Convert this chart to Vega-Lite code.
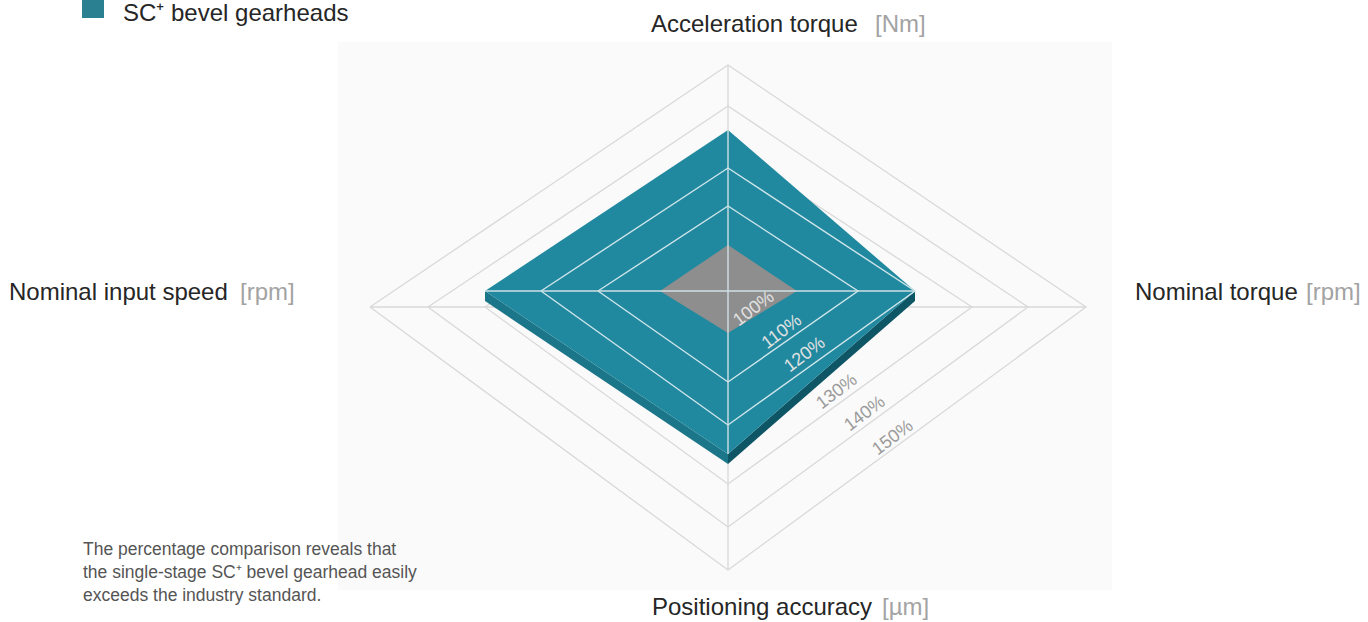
{
  "$schema": "https://vega.github.io/schema/vega-lite/v6.json",
  "width": 1368,
  "height": 622,
  "autosize": {"type": "none"},
  "padding": 0,
  "background": "#ffffff",
  "config": {"view": {"stroke": null}, "text": {"font": "Liberation Sans"}},
  "resolve": {"scale": {"color": "independent"}},
  "datasets": {
    "panel": [{"x": -390, "x2": 384, "y": 265, "y2": -283}],
    "ringsLow": [
      {"ring": "130%", "i": 0, "x": -243, "y": 0}, {"ring": "130%", "i": 1, "x": 0, "y": 160}, {"ring": "130%", "i": 2, "x": 244, "y": 0}, {"ring": "130%", "i": 3, "x": 0, "y": -177}, {"ring": "130%", "i": 4, "x": -243, "y": 0},
      {"ring": "140%", "i": 0, "x": -300, "y": 0}, {"ring": "140%", "i": 1, "x": 0, "y": 201}, {"ring": "140%", "i": 2, "x": 300, "y": 0}, {"ring": "140%", "i": 3, "x": 0, "y": -220}, {"ring": "140%", "i": 4, "x": -300, "y": 0},
      {"ring": "150%", "i": 0, "x": -358, "y": 0}, {"ring": "150%", "i": 1, "x": 0, "y": 242}, {"ring": "150%", "i": 2, "x": 358, "y": 0}, {"ring": "150%", "i": 3, "x": 0, "y": -263}, {"ring": "150%", "i": 4, "x": -358, "y": 0}
    ],
    "axesLow": [{"x": -358, "y": 0, "x2": 358, "y2": 0}, {"x": 0, "y": 242, "x2": 0, "y2": -263}],
    "sides": [
      {"face": "left", "x": -243, "y": 16, "y2": 6}, {"face": "left", "x": 0, "y": -147, "y2": -157},
      {"face": "right", "x": 0, "y": -147, "y2": -157}, {"face": "right", "x": 187, "y": 16, "y2": 6}
    ],
    "plate": [{"x": -243, "y": 16, "y2": 16}, {"x": 0, "y": 177, "y2": -147}, {"x": 187, "y": 16, "y2": 16}],
    "base": [{"x": -68, "y": 16, "y2": 16}, {"x": 0, "y": 62, "y2": -26}, {"x": 69, "y": 16, "y2": 16}],
    "ringsUp": [
      {"ring": "110%", "i": 0, "x": -130, "y": 16}, {"ring": "110%", "i": 1, "x": 0, "y": 101}, {"ring": "110%", "i": 2, "x": 130, "y": 16}, {"ring": "110%", "i": 3, "x": 0, "y": -75}, {"ring": "110%", "i": 4, "x": -130, "y": 16},
      {"ring": "120%", "i": 0, "x": -187, "y": 16}, {"ring": "120%", "i": 1, "x": 0, "y": 139}, {"ring": "120%", "i": 2, "x": 187, "y": 16}, {"ring": "120%", "i": 3, "x": 0, "y": -118}, {"ring": "120%", "i": 4, "x": -187, "y": 16}
    ],
    "axesUp": [{"x": -243, "y": 16, "x2": 187, "y2": 16}, {"x": 0, "y": 177, "x2": 0, "y2": -147}],
    "pct": [
      {"label": "100%", "tone": "in", "x": 26, "y": -2},
      {"label": "110%", "tone": "in", "x": 54, "y": -25},
      {"label": "120%", "tone": "in", "x": 77, "y": -48},
      {"label": "130%", "tone": "out", "x": 109, "y": -85},
      {"label": "140%", "tone": "out", "x": 137, "y": -107},
      {"label": "150%", "tone": "out", "x": 165, "y": -131}
    ],
    "labels": [
      {"text": "Acceleration torque", "tone": "name", "x": -77, "y": 275},
      {"text": "[Nm]", "tone": "unit", "x": 147, "y": 275},
      {"text": "Nominal input speed", "tone": "name", "x": -719, "y": 7},
      {"text": "[rpm]", "tone": "unit", "x": -488, "y": 7},
      {"text": "Nominal torque", "tone": "name", "x": 407, "y": 7},
      {"text": "[rpm]", "tone": "unit", "x": 578, "y": 7},
      {"text": "Positioning accuracy", "tone": "name", "x": -76, "y": -308},
      {"text": "[µm]", "tone": "unit", "x": 154, "y": -308},
      {"text": "SC⁺ bevel gearheads", "tone": "name", "x": -605, "y": 286}
    ],
    "legendBox": [{"x": -646, "x2": -624, "y": 307, "y2": 289}],
    "caption": [
      {"line": "The  percentage  comparison  reveals  that", "x": -645, "y": -248},
      {"line": "the single-stage SC⁺ bevel gearhead easily", "x": -645, "y": -271},
      {"line": "exceeds the industry standard.", "x": -645, "y": -294}
    ]
  },
  "layer": [
    {
      "data": {"name": "panel"},
      "mark": {"type": "rect", "color": "#fafafa"},
      "encoding": {
        "x": {"field": "x", "type": "quantitative", "scale": {"domain": [-728, 640], "nice": false, "zero": false}, "axis": null},
        "x2": {"field": "x2"},
        "y": {"field": "y", "type": "quantitative", "scale": {"domain": [-315, 307], "nice": false, "zero": false}, "axis": null},
        "y2": {"field": "y2"}
      }
    },
    {
      "data": {"name": "ringsLow"},
      "mark": {"type": "line", "color": "#d9d9d9", "strokeWidth": 1.3},
      "encoding": {
        "x": {"field": "x", "type": "quantitative", "scale": {"domain": [-728, 640], "nice": false, "zero": false}, "axis": null},
        "y": {"field": "y", "type": "quantitative", "scale": {"domain": [-315, 307], "nice": false, "zero": false}, "axis": null},
        "detail": {"field": "ring", "type": "nominal"},
        "order": {"field": "i", "type": "quantitative"}
      }
    },
    {
      "data": {"name": "axesLow"},
      "mark": {"type": "rule", "color": "#d9d9d9", "strokeWidth": 1.3},
      "encoding": {
        "x": {"field": "x", "type": "quantitative", "scale": {"domain": [-728, 640], "nice": false, "zero": false}, "axis": null},
        "x2": {"field": "x2"},
        "y": {"field": "y", "type": "quantitative", "scale": {"domain": [-315, 307], "nice": false, "zero": false}, "axis": null},
        "y2": {"field": "y2"}
      }
    },
    {
      "data": {"name": "sides"},
      "mark": {"type": "area", "opacity": 1},
      "encoding": {
        "x": {"field": "x", "type": "quantitative", "scale": {"domain": [-728, 640], "nice": false, "zero": false}, "axis": null},
        "y": {"field": "y", "type": "quantitative", "scale": {"domain": [-315, 307], "nice": false, "zero": false}, "axis": null},
        "y2": {"field": "y2"},
        "color": {"field": "face", "type": "nominal", "scale": {"domain": ["left", "right"], "range": ["#1a7688", "#0e5566"]}, "legend": null}
      }
    },
    {
      "data": {"name": "plate"},
      "mark": {"type": "area", "color": "#21899f", "opacity": 1},
      "encoding": {
        "x": {"field": "x", "type": "quantitative", "scale": {"domain": [-728, 640], "nice": false, "zero": false}, "axis": null},
        "y": {"field": "y", "type": "quantitative", "scale": {"domain": [-315, 307], "nice": false, "zero": false}, "axis": null},
        "y2": {"field": "y2"}
      }
    },
    {
      "data": {"name": "base"},
      "mark": {"type": "area", "color": "#8e8e8e", "opacity": 1},
      "encoding": {
        "x": {"field": "x", "type": "quantitative", "scale": {"domain": [-728, 640], "nice": false, "zero": false}, "axis": null},
        "y": {"field": "y", "type": "quantitative", "scale": {"domain": [-315, 307], "nice": false, "zero": false}, "axis": null},
        "y2": {"field": "y2"}
      }
    },
    {
      "data": {"name": "ringsUp"},
      "mark": {"type": "line", "color": "#cfe5ea", "strokeWidth": 1.4},
      "encoding": {
        "x": {"field": "x", "type": "quantitative", "scale": {"domain": [-728, 640], "nice": false, "zero": false}, "axis": null},
        "y": {"field": "y", "type": "quantitative", "scale": {"domain": [-315, 307], "nice": false, "zero": false}, "axis": null},
        "detail": {"field": "ring", "type": "nominal"},
        "order": {"field": "i", "type": "quantitative"}
      }
    },
    {
      "data": {"name": "axesUp"},
      "mark": {"type": "rule", "color": "#cfe0e4", "strokeWidth": 1.4},
      "encoding": {
        "x": {"field": "x", "type": "quantitative", "scale": {"domain": [-728, 640], "nice": false, "zero": false}, "axis": null},
        "x2": {"field": "x2"},
        "y": {"field": "y", "type": "quantitative", "scale": {"domain": [-315, 307], "nice": false, "zero": false}, "axis": null},
        "y2": {"field": "y2"}
      }
    },
    {
      "data": {"name": "pct"},
      "mark": {"type": "text", "angle": -37, "fontSize": 18, "align": "center", "baseline": "middle"},
      "encoding": {
        "x": {"field": "x", "type": "quantitative", "scale": {"domain": [-728, 640], "nice": false, "zero": false}, "axis": null},
        "y": {"field": "y", "type": "quantitative", "scale": {"domain": [-315, 307], "nice": false, "zero": false}, "axis": null},
        "text": {"field": "label"},
        "color": {"field": "tone", "type": "nominal", "scale": {"domain": ["in", "out"], "range": ["#e2e2e2", "#9a9a9a"]}, "legend": null}
      }
    },
    {
      "data": {"name": "labels"},
      "mark": {"type": "text", "fontSize": 24, "align": "left", "baseline": "alphabetic"},
      "encoding": {
        "x": {"field": "x", "type": "quantitative", "scale": {"domain": [-728, 640], "nice": false, "zero": false}, "axis": null},
        "y": {"field": "y", "type": "quantitative", "scale": {"domain": [-315, 307], "nice": false, "zero": false}, "axis": null},
        "text": {"field": "text"},
        "color": {"field": "tone", "type": "nominal", "scale": {"domain": ["name", "unit"], "range": ["#262626", "#a3a3a3"]}, "legend": null}
      }
    },
    {
      "data": {"name": "legendBox"},
      "mark": {"type": "rect", "color": "#2a7f91"},
      "encoding": {
        "x": {"field": "x", "type": "quantitative", "scale": {"domain": [-728, 640], "nice": false, "zero": false}, "axis": null},
        "x2": {"field": "x2"},
        "y": {"field": "y", "type": "quantitative", "scale": {"domain": [-315, 307], "nice": false, "zero": false}, "axis": null},
        "y2": {"field": "y2"}
      }
    },
    {
      "data": {"name": "caption"},
      "mark": {"type": "text", "fontSize": 17.5, "align": "left", "baseline": "alphabetic", "color": "#555555"},
      "encoding": {
        "x": {"field": "x", "type": "quantitative", "scale": {"domain": [-728, 640], "nice": false, "zero": false}, "axis": null},
        "y": {"field": "y", "type": "quantitative", "scale": {"domain": [-315, 307], "nice": false, "zero": false}, "axis": null},
        "text": {"field": "line"}
      }
    }
  ]
}
